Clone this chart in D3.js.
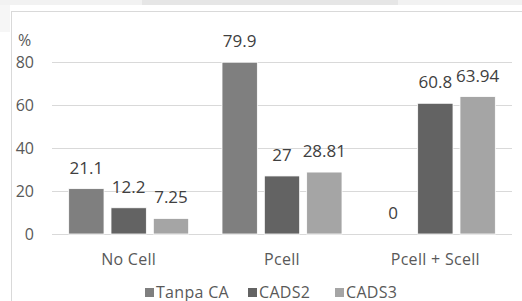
<!DOCTYPE html>
<html>
<head>
<meta charset="utf-8">
<script src="https://cdn.jsdelivr.net/npm/d3@7"></script>
<style>
  body { margin: 0; background: #fff; }
  svg { display: block; font-family: "Open Sans", sans-serif; }
</style>
</head>
<body>
<svg id="chart" width="522" height="301"></svg>
<script>
// chart data
var categories = ["No Cell", "Pcell", "Pcell + Scell"];
var seriesNames = ["Tanpa CA", "CADS2", "CADS3"];
var tanpaCA = [21.1, 79.9, 0];
var cads2 = [12.2, 27, 60.8];
var cads3 = [7.25, 28.81, 63.94];
var yTicks = [0, 20, 40, 60, 80];
var colors = ["#7f7f7f", "#636363", "#a5a5a5"];

var series = [tanpaCA, cads2, cads3];

var svg = d3.select("#chart"),
    width = +svg.attr("width"),
    height = +svg.attr("height");

// frame bits around the chart area
svg.append("rect").attr("x", 0).attr("y", 0).attr("width", width).attr("height", 5).attr("fill", "#f2f2f2");
svg.append("rect").attr("x", 142).attr("y", 0).attr("width", 256).attr("height", 5).attr("fill", "#e6e6e6");
svg.append("rect").attr("x", 0).attr("y", 5).attr("width", 10).attr("height", 27).attr("fill", "#f6f6f6");
svg.append("rect").attr("x", 11.5).attr("y", 11.5).attr("width", width + 10).attr("height", height + 10)
    .attr("fill", "#fff").attr("stroke", "#d9d9d9");

// scales
var x0 = d3.scaleBand().domain(categories).range([52, 512]).padding(0);
var x1 = d3.scaleBand().domain(seriesNames).range([0, x0.bandwidth()])
    .paddingInner(0.165).paddingOuter(0.394);
var y = d3.scaleLinear().domain([0, 80]).range([234, 62]);

// gridlines
svg.append("g")
  .selectAll("line")
  .data(yTicks)
  .join("line")
    .attr("x1", 52).attr("x2", 512)
    .attr("y1", function(d) { return Math.round(y(d)) + 0.5; })
    .attr("y2", function(d) { return Math.round(y(d)) + 0.5; })
    .attr("stroke", "#d9d9d9");

// y axis labels
svg.append("g")
  .selectAll("text")
  .data(yTicks)
  .join("text")
    .attr("x", 34)
    .attr("y", function(d) { return y(d) + 6; })
    .attr("text-anchor", "end")
    .attr("font-size", 16)
    .attr("fill", "#595959")
    .text(function(d) { return d; });

svg.append("text")
  .attr("x", 18).attr("y", 46)
  .attr("font-size", 16)
  .attr("fill", "#595959")
  .text("%");

// bars
var groups = svg.append("g")
  .selectAll("g")
  .data(categories)
  .join("g")
    .attr("transform", function(d) { return "translate(" + x0(d) + ",0)"; });

var cells = groups.selectAll("g")
  .data(function(d, i) {
    return seriesNames.map(function(s, j) { return { name: s, value: series[j][i], idx: j }; });
  })
  .join("g");

cells.append("rect")
    .attr("x", function(d) { return x1(d.name); })
    .attr("y", function(d) { return y(d.value); })
    .attr("width", x1.bandwidth())
    .attr("height", function(d) { return y(0) - y(d.value); })
    .attr("fill", function(d) { return colors[d.idx]; })
    .attr("stroke", "#fff")
    .attr("stroke-width", 0.8);

cells.append("text")
    .attr("x", function(d) { return x1(d.name) + x1.bandwidth() / 2; })
    .attr("y", function(d) { return y(d.value) - 15; })
    .attr("text-anchor", "middle")
    .attr("font-size", 17)
    .attr("fill", "#404040")
    .text(function(d) { return d.value; });

// category labels
svg.append("g")
  .selectAll("text")
  .data(categories)
  .join("text")
    .attr("x", function(d) { return x0(d) + x0.bandwidth() / 2; })
    .attr("y", 265)
    .attr("text-anchor", "middle")
    .attr("font-size", 16)
    .attr("letter-spacing", 0.3)
    .attr("fill", "#595959")
    .text(function(d) { return d; });

// legend
var legendX = [145, 248, 335];
var legend = svg.append("g")
  .selectAll("g")
  .data(seriesNames)
  .join("g")
    .attr("transform", function(d, i) { return "translate(" + legendX[i] + ",288)"; });

legend.append("rect")
    .attr("width", 9).attr("height", 9)
    .attr("fill", function(d, i) { return colors[i]; });

legend.append("text")
    .attr("x", 11).attr("y", 9.5)
    .attr("font-size", 16)
    .attr("letter-spacing", 0.3)
    .attr("fill", "#595959")
    .text(function(d) { return d; });
</script>
</body>
</html>
